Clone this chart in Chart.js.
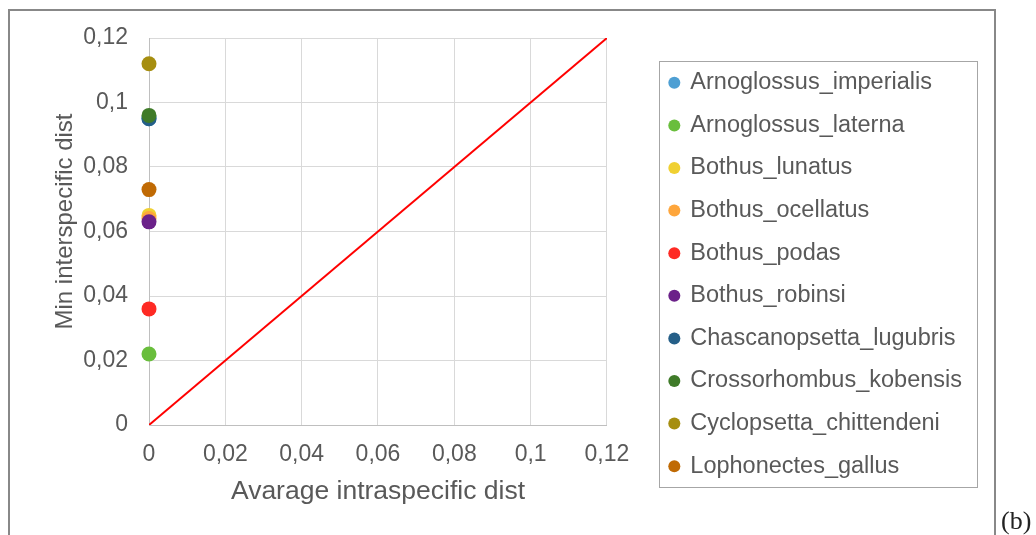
<!DOCTYPE html>
<html>
<head>
<meta charset="utf-8">
<script src="https://cdn.jsdelivr.net/npm/chart.js@4/dist/chart.umd.min.js"></script>
<style>
  body { margin: 0; background: #fff; }
  #frame { position: absolute; left: 8px; top: 9px; width: 984px; height: 560px; border: 2px solid #888; }
  #levels { position: absolute; left: 0; top: 0; }
  #tag { position: absolute; left: 1001px; top: 506px; font: 26px "Liberation Serif", serif; color: #222; }
</style>
</head>
<body>
<div id="frame"></div>
<canvas id="levels" width="1036" height="535"></canvas>
<div id="tag">(b)</div>
<script>
//species and their distances
const species = ['Arnoglossus_imperialis', 'Arnoglossus_laterna', 'Bothus_lunatus', 'Bothus_ocellatus', 'Bothus_podas',
    'Bothus_robinsi', 'Chascanopsetta_lugubris', 'Crossorhombus_kobensis', 'Cyclopsetta_chittendeni', 'Lophonectes_gallus'];
const intraDist = [0, 0, 0, 0, 0, 0, 0, 0, 0, 0];
const minInterDist = [0.095, 0.022, 0.065, 0.064, 0.036, 0.063, 0.095, 0.096, 0.112, 0.073];
const colors = ['#4e9fd3', '#69be3c', '#f0d032', '#fea63c', '#fe2a24', '#6b2189', '#255f88', '#3f7b29', '#a68e10', '#c06a04'];
//identity line x = y
const lineX = [0, 0.12];
const lineY = [0, 0.12];
const tickValues = [0, 0.02, 0.04, 0.06, 0.08, 0.1, 0.12];

const fontFamily = '"Liberation Sans", Arial, sans-serif';
const textColor = '#595959';
const fmt = v => parseFloat(Number(v).toFixed(2)).toString().replace('.', ',');
const setTicks = s => { s.ticks = tickValues.map(v => ({ value: v })); };

//scatter datasets, later ones drawn on top like in excel
const datasets = species.map((name, i) => ({
    type: 'scatter',
    label: name,
    data: intraDist.map((x, j) => j == i ? { x: x, y: minInterDist[i] } : null).filter(p => p),
    backgroundColor: colors[i],
    borderColor: colors[i],
    borderWidth: 0,
    pointRadius: 7.5,
    pointHoverRadius: 7.5,
    pointStyle: 'circle',
    clip: false,
    order: 10 - i
}));
datasets.push({
    type: 'line',
    label: '',
    data: lineX.map((x, j) => ({ x: x, y: lineY[j] })),
    borderColor: '#ff0000',
    borderWidth: 2,
    pointRadius: 0,
    fill: false,
    order: 20
});

//box around the legend
const legendBox = {
    id: 'legendBox',
    afterDraw(chart) {
        const boxes = chart.legend.legendHitBoxes;
        if (!boxes || !boxes.length) return;
        const left = Math.min(...boxes.map(b => b.left)) - 11.5;
        const right = Math.max(...boxes.map(b => b.left + b.width)) + 15;
        const top = boxes[0].top - 10;
        const last = boxes[boxes.length - 1];
        const bottom = last.top + last.height + 9.5;
        const ctx = chart.ctx;
        ctx.save();
        ctx.strokeStyle = '#a6a6a6';
        ctx.lineWidth = 1;
        ctx.strokeRect(Math.round(left) + 0.5, Math.round(top) + 0.5, Math.round(right - left), Math.round(bottom - top));
        ctx.restore();
    }
};

const ctx = document.getElementById('levels').getContext('2d');
new Chart(ctx, {
    data: { datasets: datasets },
    plugins: [legendBox],
    options: {
        responsive: false,
        animation: false,
        devicePixelRatio: 1,
        layout: { padding: { left: 20, top: 38, right: 64, bottom: 24 } },
        scales: {
            x: {
                type: 'linear',
                position: 'bottom',
                min: 0,
                max: 0.12,
                afterBuildTicks: setTicks,
                afterFit: s => { s.height = 86; },
                grid: { color: '#d9d9d9', drawTicks: false },
                border: { color: '#bfbfbf' },
                ticks: { padding: 16, color: textColor, font: { family: fontFamily, size: 23 }, callback: fmt, maxRotation: 0 },
                title: { display: true, text: 'Avarage intraspecific dist', color: textColor,
                    font: { family: fontFamily, size: 26.5 }, padding: { top: 0, bottom: 3 } }
            },
            y: {
                type: 'linear',
                position: 'left',
                min: 0,
                max: 0.12,
                afterBuildTicks: setTicks,
                afterFit: s => { s.width = 129; },
                grid: { color: '#d9d9d9', drawTicks: false },
                border: { color: '#bfbfbf' },
                ticks: { padding: 21, color: textColor, font: { family: fontFamily, size: 23 }, callback: fmt },
                //leading spaces lift the text a little, as in the original
                title: { display: true, text: '   Min interspecific dist', color: textColor,
                    font: { family: fontFamily, size: 24 }, padding: { top: 31, bottom: 0 } }
            },
            //empty axis, only keeps the gap between plot and legend
            gap: {
                type: 'linear',
                position: 'right',
                display: true,
                afterFit: s => { s.width = 44; },
                grid: { display: false },
                border: { display: false },
                ticks: { display: false }
            }
        },
        plugins: {
            tooltip: { enabled: false },
            legend: {
                position: 'right',
                maxWidth: 400,
                labels: {
                    usePointStyle: true,
                    boxWidth: 8.5,
                    boxHeight: 8.5,
                    padding: 19.1,
                    color: textColor,
                    font: { family: fontFamily, size: 23.5 },
                    filter: item => item.text != '',
                    sort: (a, b) => a.datasetIndex - b.datasetIndex
                }
            }
        }
    }
});
</script>
</body>
</html>
